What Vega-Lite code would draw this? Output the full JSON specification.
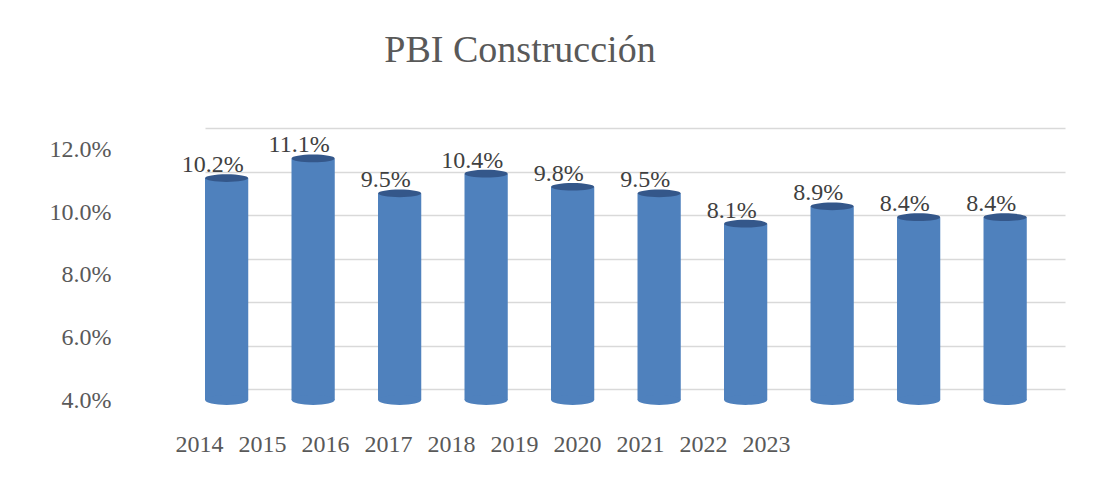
{
  "$schema": "https://vega.github.io/schema/vega-lite/v6.json",
  "autosize": "none",
  "width": 860,
  "height": 272,
  "padding": {"left": 205, "top": 128, "right": 50, "bottom": 86},
  "background": "white",
  "title": {
    "text": "PBI Construcción",
    "font": "Liberation Serif",
    "fontSize": 38,
    "fontWeight": "normal",
    "color": "#595959",
    "anchor": "middle",
    "dx": -115,
    "offset": 58
  },
  "data": {
    "values": [
      {"year": "2014", "value": 0.102},
      {"year": "2015", "value": 0.111},
      {"year": "2016", "value": 0.095},
      {"year": "2017", "value": 0.104},
      {"year": "2018", "value": 0.098},
      {"year": "2019", "value": 0.095},
      {"year": "2020", "value": 0.081},
      {"year": "2021", "value": 0.089},
      {"year": "2022", "value": 0.084},
      {"year": "2023", "value": 0.084}
    ]
  },
  "layer": [
    {
      "encoding": {
        "x": {
          "field": "year",
          "type": "ordinal",
          "scale": {"paddingInner": 0.5, "paddingOuter": 0.221, "align": 0},
          "axis": null
        },
        "y": {
          "field": "value",
          "type": "quantitative",
          "scale": {"domain": [0, 0.125], "nice": false, "zero": true},
          "axis": {
            "orient": "right",
            "labels": false,
            "ticks": false,
            "domain": false,
            "title": null,
            "values": [0.005, 0.025, 0.045, 0.065, 0.085, 0.105, 0.125],
            "grid": true,
            "gridColor": "#D9D9D9",
            "gridWidth": 1.5
          }
        }
      },
      "layer": [
        {"mark": {"type": "bar", "color": "#4F81BD"}},
        {
          "mark": {
            "type": "point",
            "filled": true,
            "color": "#4F81BD",
            "opacity": 1,
            "size": 1849,
            "shape": "M -1 0 A 1 0.23 0 1 0 1 0 A 1 0.23 0 1 0 -1 0 Z"
          },
          "encoding": {"y": {"datum": 0}}
        },
        {
          "mark": {
            "type": "point",
            "filled": true,
            "color": "#34578A",
            "opacity": 1,
            "size": 1849,
            "shape": "M -1 0 A 1 0.18 0 1 0 1 0 A 1 0.18 0 1 0 -1 0 Z"
          }
        },
        {
          "mark": {
            "type": "text",
            "font": "Liberation Serif",
            "fontSize": 24,
            "color": "#404040",
            "baseline": "alphabetic",
            "dx": -14,
            "dy": -6
          },
          "encoding": {"text": {"field": "value", "type": "quantitative", "format": ".1%"}}
        }
      ]
    },
    {
      "mark": {"type": "point", "opacity": 0},
      "encoding": {
        "x": {
          "field": "year",
          "type": "ordinal",
          "scale": {"type": "point", "range": [-6, 561], "padding": 0},
          "axis": {
            "orient": "bottom",
            "title": null,
            "labelAngle": 0,
            "ticks": false,
            "tickSize": 0,
            "domain": false,
            "grid": false,
            "labelFont": "Liberation Serif",
            "labelFontSize": 24,
            "labelColor": "#595959",
            "labelPadding": 32
          }
        },
        "y": {
          "field": "value",
          "type": "quantitative",
          "scale": {"domain": [0.04, 0.127], "nice": false, "zero": false},
          "axis": {
            "orient": "left",
            "title": null,
            "values": [0.04, 0.06, 0.08, 0.10, 0.12],
            "format": ".1%",
            "ticks": false,
            "tickSize": 0,
            "domain": false,
            "grid": false,
            "labelFont": "Liberation Serif",
            "labelFontSize": 24,
            "labelColor": "#595959",
            "labelPadding": 94
          }
        }
      }
    }
  ],
  "resolve": {"scale": {"x": "independent", "y": "independent"}, "axis": {"x": "independent", "y": "independent"}},
  "config": {"view": {"stroke": null}}
}
